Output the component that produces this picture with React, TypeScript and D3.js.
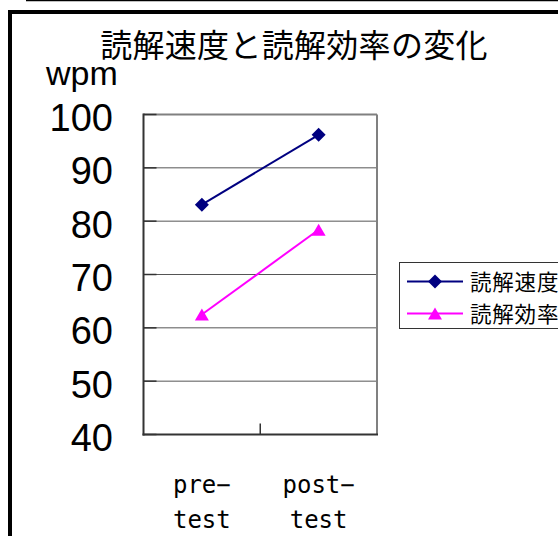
import React from "react";
import * as d3 from "d3";

const categories = ["pre−|test", "post−|test"];
const speedValues = [83.1, 96.2];
const efficiencyValues = [62.5, 78.4];
const yTicks = [40, 50, 60, 70, 80, 90, 100];
const seriesNames = ["読解速度", "読解効率"];
const title = "読解速度と読解効率の変化";
const yUnit = "wpm";

export default function App() {
  const W = 558, H = 536;
  const left = 143.5, right = 377, top = 114.5, bottom = 434.5;
  const x = d3.scaleBand().domain(categories).range([left, right]);
  const y = d3.scaleLinear().domain([40, 100]).range([bottom, top]);
  const cx = (c: string) => (x(c) as number) + x.bandwidth() / 2;
  const line = d3.line<number>().x((_, i) => cx(categories[i])).y((v) => y(v));
  const navy = "#000080";
  const magenta = "#FF00FF";
  const diamond = (px: number, py: number, r: number) =>
    `M${px},${py - r}L${px + r},${py}L${px},${py + r}L${px - r},${py}Z`;
  const tri = (px: number, py: number, w: number, h: number) =>
    `M${px},${py - h / 2}L${px + w / 2},${py + h / 2}L${px - w / 2},${py + h / 2}Z`;
  const cjk = "'Noto Sans CJK JP', sans-serif";
  return (
    <svg width={W} height={H} style={{ position: "absolute", left: 0, top: 0, background: "#fff" }}>
      {/* top line & frame */}
      <line x1={26} x2={W} y1={0.5} y2={0.5} stroke="#000" strokeWidth={1.5} />
      <path d={`M10,${H + 5}V12H${W + 5}`} fill="none" stroke="#000" strokeWidth={4} />
      {/* title */}
      <text x={294} y={57} textAnchor="middle" fontFamily={cjk} fontSize={32} letterSpacing={0.3} fill="#000">{title}</text>
      <text x={46} y={85} fontFamily="'Liberation Sans', Arial, sans-serif" fontSize={34} fill="#000">{yUnit}</text>
      {/* gridlines */}
      {yTicks.filter((t) => t !== 40 && t !== 100).map((t) => (
        <line key={t} x1={left} x2={right} y1={y(t)} y2={y(t)} stroke="#555" strokeWidth={1} />
      ))}
      {/* border */}
      <line x1={left} x2={right} y1={top} y2={top} stroke="#808080" strokeWidth={2} />
      <line x1={right} x2={right} y1={top} y2={bottom} stroke="#808080" strokeWidth={2} />
      {/* ticks inside */}
      {yTicks.map((t) => (
        <line key={"tk" + t} x1={left} x2={left + 13} y1={y(t)} y2={y(t)} stroke="#333" strokeWidth={1.5} />
      ))}
      <line x1={left + x.bandwidth()} x2={left + x.bandwidth()} y1={bottom} y2={bottom - 11} stroke="#333" strokeWidth={1.5} />
      {/* axes */}
      <line x1={left} x2={left} y1={top - 1} y2={bottom + 1} stroke="#333" strokeWidth={2} />
      <line x1={left - 1} x2={right + 1} y1={bottom} y2={bottom} stroke="#333" strokeWidth={2} />
      {/* y labels */}
      {yTicks.map((t) => (
        <text key={"yl" + t} x={113} y={y(t) + 16.5} textAnchor="end" fontFamily="'Liberation Sans', Arial, sans-serif" fontSize={38} fill="#000">{t}</text>
      ))}
      {/* x labels */}
      {categories.map((c) => {
        const [a, b] = c.split("|");
        return (
          <text key={c} x={cx(c)} textAnchor="middle" fontFamily="'DejaVu Sans Mono', monospace" fontSize={24} fill="#000">
            <tspan x={cx(c)} y={493}>{a}</tspan>
            <tspan x={cx(c)} y={528}>{b}</tspan>
          </text>
        );
      })}
      {/* series */}
      <path d={line(speedValues) || ""} fill="none" stroke={navy} strokeWidth={2} />
      {speedValues.map((v, i) => (
        <path key={"d" + i} d={diamond(cx(categories[i]), y(v), 7)} fill={navy} />
      ))}
      <path d={line(efficiencyValues) || ""} fill="none" stroke={magenta} strokeWidth={2} />
      {efficiencyValues.map((v, i) => (
        <path key={"t" + i} d={tri(cx(categories[i]), y(v), 14, 12)} fill={magenta} />
      ))}
      {/* legend */}
      <rect x={399.5} y={262.5} width={200} height={66} fill="#fff" stroke="#333" strokeWidth={1} />
      <line x1={407} x2={463} y1={281.5} y2={281.5} stroke={navy} strokeWidth={2} />
      <path d={diamond(435, 281.5, 7)} fill={navy} />
      <text x={470} y={290} fontFamily={cjk} fontSize={21.5} letterSpacing={0.8} fill="#000">{seriesNames[0]}</text>
      <line x1={407} x2={463} y1={313.5} y2={313.5} stroke={magenta} strokeWidth={2} />
      <path d={tri(435, 313.5, 14, 12)} fill={magenta} />
      <text x={470} y={322} fontFamily={cjk} fontSize={21.5} letterSpacing={0.8} fill="#000">{seriesNames[1]}</text>
    </svg>
  );
}
